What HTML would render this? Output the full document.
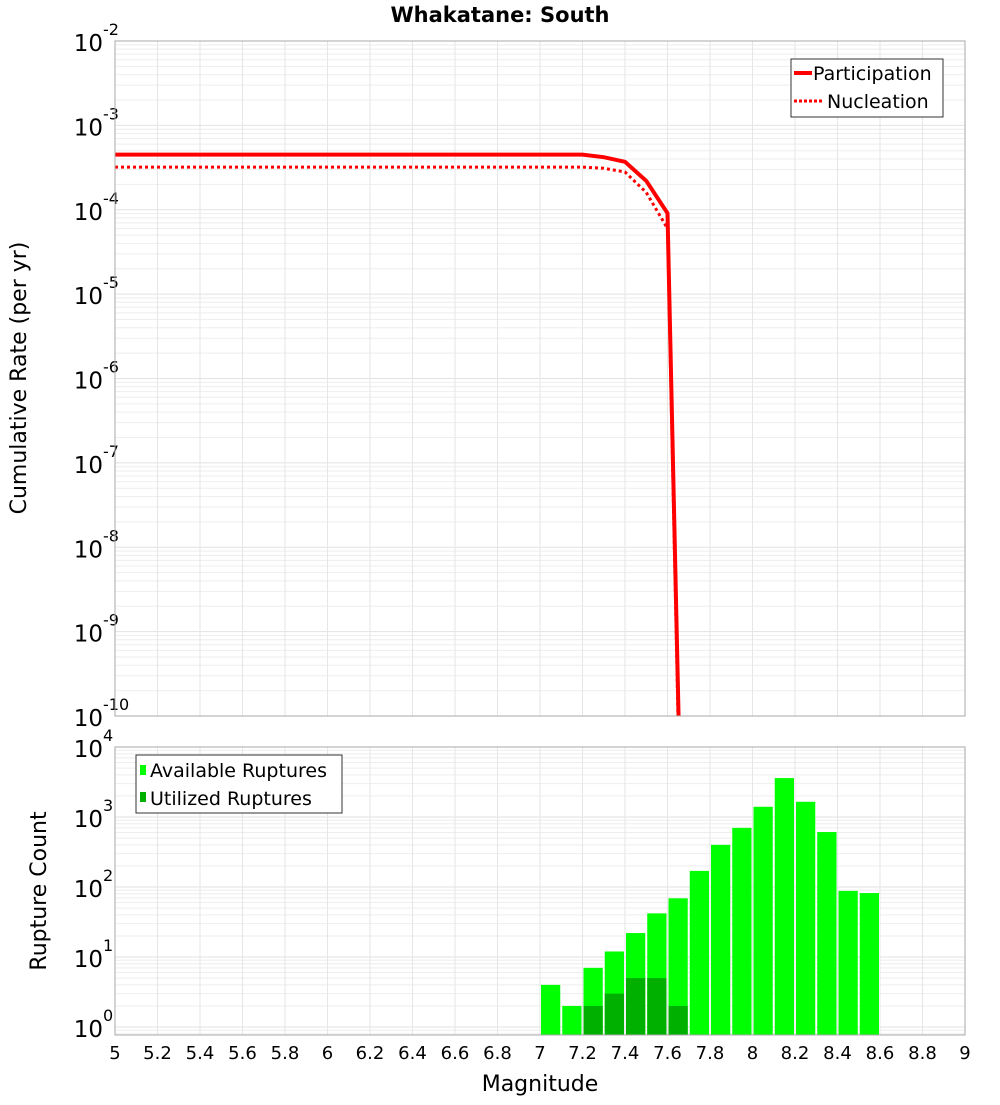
<!DOCTYPE html>
<html><head><meta charset="utf-8"><style>
body{margin:0;background:#fff;font-family:"Liberation Sans","DejaVu Sans",sans-serif}
svg text{font-family:"DejaVu Sans","Liberation Sans",sans-serif}
</style></head><body>
<svg id="c" width="1000" height="1100" xmlns="http://www.w3.org/2000/svg">
<rect width="1000" height="1100" fill="#fff"/>
<text x="500" y="22" text-anchor="middle" font-size="21" font-weight="bold">Whakatane: South</text>
<g id="topg"></g><g id="botg"></g>
</svg>
<script>
const magX = [5.0,5.1,5.2,5.3,5.4,5.5,5.6,5.7,5.8,5.9,6.0,6.1,6.2,6.3,6.4,6.5,6.6,6.7,6.8,6.9,7.0,7.1,7.2,7.3,7.4,7.5,7.6,7.7];
const participation = [4.5e-4,4.5e-4,4.5e-4,4.5e-4,4.5e-4,4.5e-4,4.5e-4,4.5e-4,4.5e-4,4.5e-4,4.5e-4,4.5e-4,4.5e-4,4.5e-4,4.5e-4,4.5e-4,4.5e-4,4.5e-4,4.5e-4,4.5e-4,4.5e-4,4.5e-4,4.5e-4,4.2e-4,3.7e-4,2.2e-4,9.1e-5,3e-16];
const nucleation = [3.2e-4,3.2e-4,3.2e-4,3.2e-4,3.2e-4,3.2e-4,3.2e-4,3.2e-4,3.2e-4,3.2e-4,3.2e-4,3.2e-4,3.2e-4,3.2e-4,3.2e-4,3.2e-4,3.2e-4,3.2e-4,3.2e-4,3.2e-4,3.2e-4,3.2e-4,3.2e-4,3.1e-4,2.8e-4,1.6e-4,6e-5,1e-16];
const binStarts = [7.0,7.1,7.2,7.3,7.4,7.5,7.6,7.7,7.8,7.9,8.0,8.1,8.2,8.3,8.4,8.5];
const available = [4,2,7,12,22,42,69,170,400,700,1400,3600,1650,610,88,82];
const utilized = [0,0,2,3,5,5,2,0,0,0,0,0,0,0,0,0];
const xTicks = ["5","5.2","5.4","5.6","5.8","6","6.2","6.4","6.6","6.8","7","7.2","7.4","7.6","7.8","8","8.2","8.4","8.6","8.8","9"];
const topExp = [-2,-3,-4,-5,-6,-7,-8,-9,-10];
const botExp = [4,3,2,1,0];

const NS="http://www.w3.org/2000/svg";
function mk(p,t,a){const e=document.createElementNS(NS,t);for(const k in a)e.setAttribute(k,a[k]);p.appendChild(e);return e;}
const L=115,R=965;
const X=m=>L+(m-5)/4*(R-L);
const T0=41,T1=716; const yT=v=>T0+(-2-Math.log10(v))/8*(T1-T0);
const B0=747,B1=1035,BMAX=4,BMIN=-0.114; const yB=v=>B0+(BMAX-Math.log10(v))/(BMAX-BMIN)*(B1-B0);
const gTop=document.getElementById('topg'), gBot=document.getElementById('botg');

function grid(g,y0,y1,emin,emax,yf){
  for(let e=Math.floor(emin);e<emax;e++){for(let k=1;k<10;k++){const v=k*Math.pow(10,e);const lv=Math.log10(v);if(lv<emin||lv>emax)continue;const y=yf(v);
    const ln=mk(g,'line',{x1:L,x2:R,y1:y,y2:y,stroke:k==1?'#e2e2e2':'#eeeeee','stroke-width':1});
    
    }}
  xTicks.forEach((t,i)=>{const x=X(5+i*0.2);const ln=mk(g,'line',{x1:x,x2:x,y1:y0,y2:y1,stroke:'#e6e6e6','stroke-width':1});
    
    });
}
grid(gTop,T0,T1,-10,-2,yT);
grid(gBot,B0,B1,BMIN,BMAX,yB);

function ylabel(g,e,y,name){const t=mk(g,'text',{x:103,y:y+10,'text-anchor':'end','font-size':23});t.textContent='10';
  const s=mk(g,'text',{x:103,y:y-6,'font-size':16});s.textContent=String(e);
  
  
  
  }
topExp.forEach(e=>ylabel(gTop,e,yT(Math.pow(10,e)),'y-tick-label'));
botExp.forEach(e=>ylabel(gBot,e,e==0?1027:yB(Math.pow(10,e)),'y-tick-label'));

function path(arr,attrs,name){let d='';arr.forEach((v,i)=>{let y=yT(v);let x=X(magX[i]);d+=(i?'L':'M')+x.toFixed(1)+','+y.toFixed(1);});
  const p=mk(gTop,'path',Object.assign({d:d,fill:'none'},attrs));
  
  }
const clip=mk(gTop,'clipPath',{id:'tc'});mk(clip,'rect',{x:L,y:T0,width:R-L,height:T1-T0});
path(nucleation,{stroke:'#ff0000','stroke-width':3,'stroke-dasharray':'3,3','clip-path':'url(#tc)'},'nucleation-line');
path(participation,{stroke:'#ff0000','stroke-width':4,'clip-path':'url(#tc)'},'participation-line');
const f1=mk(gTop,'rect',{x:L,y:T0,width:R-L,height:T1-T0,fill:'none',stroke:'#aaa'});



const lg=mk(gTop,'g',{});


mk(lg,'rect',{x:791,y:59,width:152,height:58,fill:'#fff',stroke:'#333'});
mk(lg,'line',{x1:794,x2:812,y1:73,y2:73,stroke:'#f00','stroke-width':4});
mk(lg,'line',{x1:794,x2:822,y1:101,y2:101,stroke:'#f00','stroke-width':3,'stroke-dasharray':'3,2'});
let t=mk(lg,'text',{x:813,y:80,'font-size':19});t.textContent='Participation';
t=mk(lg,'text',{x:827,y:108,'font-size':19});t.textContent='Nucleation';

binStarts.forEach((m,i)=>{
  const x1=X(m)+1,x2=X(m+0.1)-1;
  const r=mk(gBot,'rect',{x:x1,y:yB(available[i]),width:x2-x1,height:B1-yB(available[i]),fill:'#00ff00'});
  
  
  if(utilized[i]>0){const u=mk(gBot,'rect',{x:x1,y:yB(utilized[i]),width:x2-x1,height:B1-yB(utilized[i]),fill:'#00b000'});
    
    }
});
const f2=mk(gBot,'rect',{x:L,y:B0,width:R-L,height:B1-B0,fill:'none',stroke:'#aaa'});



const lg2=mk(gBot,'g',{});


mk(lg2,'rect',{x:136,y:755,width:206,height:58,fill:'#fff',stroke:'#333'});
mk(lg2,'rect',{x:140,y:765,width:6,height:10,fill:'#00ff00'});
mk(lg2,'rect',{x:140,y:792,width:6,height:10,fill:'#00b000'});
t=mk(lg2,'text',{x:150,y:777,'font-size':19});t.textContent='Available Ruptures';
t=mk(lg2,'text',{x:150,y:805,'font-size':19});t.textContent='Utilized Ruptures';

xTicks.forEach((s,i)=>{const tt=mk(gBot,'text',{x:X(5+i*0.2),y:1059,'text-anchor':'middle','font-size':18});tt.textContent=s;
  
  });
t=mk(gBot,'text',{x:540,y:1091,'text-anchor':'middle','font-size':22});t.textContent='Magnitude';


t=mk(gTop,'text',{x:0,y:0,'text-anchor':'middle','font-size':22,transform:'translate(26,378) rotate(-90)'});t.textContent='Cumulative Rate (per yr)';


t=mk(gBot,'text',{x:0,y:0,'text-anchor':'middle','font-size':22,transform:'translate(46,891) rotate(-90)'});t.textContent='Rupture Count';


</script>
</body></html>
